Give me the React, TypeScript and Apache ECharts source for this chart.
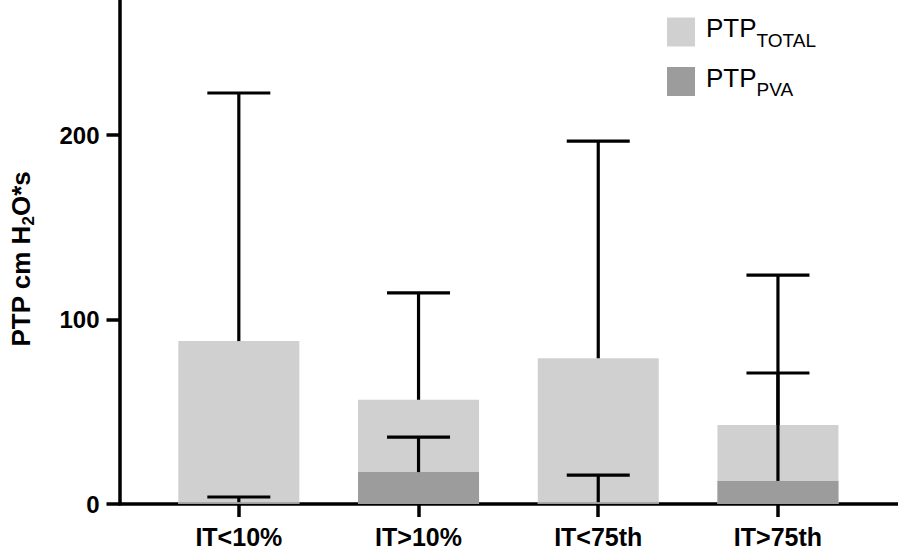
import React, { useEffect, useRef } from 'react';
import * as echarts from 'echarts';

const categories = ['IT<10%', 'IT>10%', 'IT<75th', 'IT>75th'];
const totalMean = [88.3, 56.5, 79, 42.8];
const totalUpper = [222.8, 114.4, 196.7, 124.1];
const pvaMean = [1, 17.3, 1, 12.5];
const pvaUpper = [3.8, 36.3, 15.7, 71];
const yTicks = [0, 100, 200];
const seriesNames = ['PTP_TOTAL', 'PTP_PVA'];
const seriesSubs = ['TOTAL', 'PVA'];

const FONT = 'Liberation Sans, Arial, sans-serif';

export default function App() {
  const ref = useRef<HTMLDivElement>(null);
  useEffect(() => {
    document.body.style.margin = '0';
    if (!ref.current) return;
    const chart = echarts.init(ref.current, null, { renderer: 'svg' });
    const xIdx = categories.map((_, i) => i);
    const errRender = (params: any, api: any) => {
      const x = api.value(0);
      const lo = api.value(1);
      const hi = api.value(2);
      const pLo = api.coord([x, lo]);
      const pHi = api.coord([x, hi]);
      const hw = 31.5;
      const st = { stroke: '#000', lineWidth: 3.2 };
      return {
        type: 'group',
        children: [
          { type: 'line', shape: { x1: pLo[0], y1: pLo[1], x2: pHi[0], y2: pHi[1] }, style: st },
          { type: 'line', shape: { x1: pHi[0] - hw, y1: pHi[1], x2: pHi[0] + hw, y2: pHi[1] }, style: st },
        ],
      };
    };
    chart.setOption({
      animation: false,
      backgroundColor: '#fff',
      grid: { left: 114, right: 0, top: 0, bottom: 53 },
      legend: {
        data: seriesNames,
        orient: 'vertical',
        left: 662,
        top: 10,
        itemWidth: 28,
        itemHeight: 29,
        itemGap: 15,
        icon: 'rect',
        formatter: (name: string) => `{a|PTP}{s|${seriesSubs[seriesNames.indexOf(name)]}}`,
        textStyle: {
          fontFamily: FONT,
          color: '#000',
          rich: {
            a: { fontSize: 26, fontFamily: FONT, color: '#000', padding: [0, 0, 8, 6] },
            s: { fontSize: 19, fontFamily: FONT, color: '#000', padding: [16, 0, 0, 0] },
          },
        },
      },
      xAxis: {
        type: 'value',
        min: -0.664,
        max: 3.668,
        splitLine: { show: false },
        axisLine: { show: true, onZero: false, lineStyle: { color: '#000', width: 3.5 } },
        axisTick: { show: true, customValues: xIdx, length: 13, lineStyle: { color: '#000', width: 3.5 } },
        axisLabel: {
          customValues: xIdx,
          formatter: (v: number) => categories[Math.round(v)] ?? '',
          fontFamily: FONT,
          fontWeight: 'bold',
          fontSize: 25,
          color: '#000',
          margin: 20,
        },
      },
      yAxis: {
        type: 'value',
        min: 0,
        max: 273.2,
        splitLine: { show: false },
        axisLine: { show: true, onZero: false, lineStyle: { color: '#000', width: 3.5 } },
        axisTick: { show: true, customValues: yTicks, length: 13, lineStyle: { color: '#000', width: 3.5 } },
        axisLabel: {
          customValues: yTicks,
          fontFamily: FONT,
          fontWeight: 'bold',
          fontSize: 24,
          color: '#000',
          margin: 20,
        },
        name: '{a|PTP cm H}{s|2}{a|O*s}',
        nameLocation: 'middle',
        nameRotate: 90,
        nameGap: 83,
        nameTextStyle: {
          fontFamily: FONT,
          color: '#000',
          padding: [0, 14, 0, 0],
          rich: {
            a: { fontSize: 26, fontWeight: 'bold', fontFamily: FONT, color: '#000' },
            s: { fontSize: 17, fontWeight: 'bold', fontFamily: FONT, color: '#000', padding: [14, 0, 0, 0] },
          },
        },
      },
      series: [
        {
          name: seriesNames[0],
          type: 'bar',
          barWidth: 121,
          barGap: '-100%',
          itemStyle: { color: '#d0d0d0' },
          data: totalMean.map((v, i) => [i, v]),
          z: 1,
        },
        {
          name: seriesNames[1],
          type: 'bar',
          barWidth: 121,
          barGap: '-100%',
          itemStyle: { color: '#9c9c9c' },
          data: pvaMean.map((v, i) => [i, v]),
          z: 2,
        },
        {
          type: 'custom',
          renderItem: errRender,
          encode: { x: 0, y: [1, 2] },
          data: totalMean.map((v, i) => [i, v, totalUpper[i]]),
          z: 5,
        },
        {
          type: 'custom',
          renderItem: errRender,
          encode: { x: 0, y: [1, 2] },
          data: pvaMean.map((v, i) => [i, v, pvaUpper[i]]),
          z: 5,
        },
      ],
    });
    return () => chart.dispose();
  }, []);
  return <div ref={ref} style={{ width: 898, height: 557 }} />;
}
